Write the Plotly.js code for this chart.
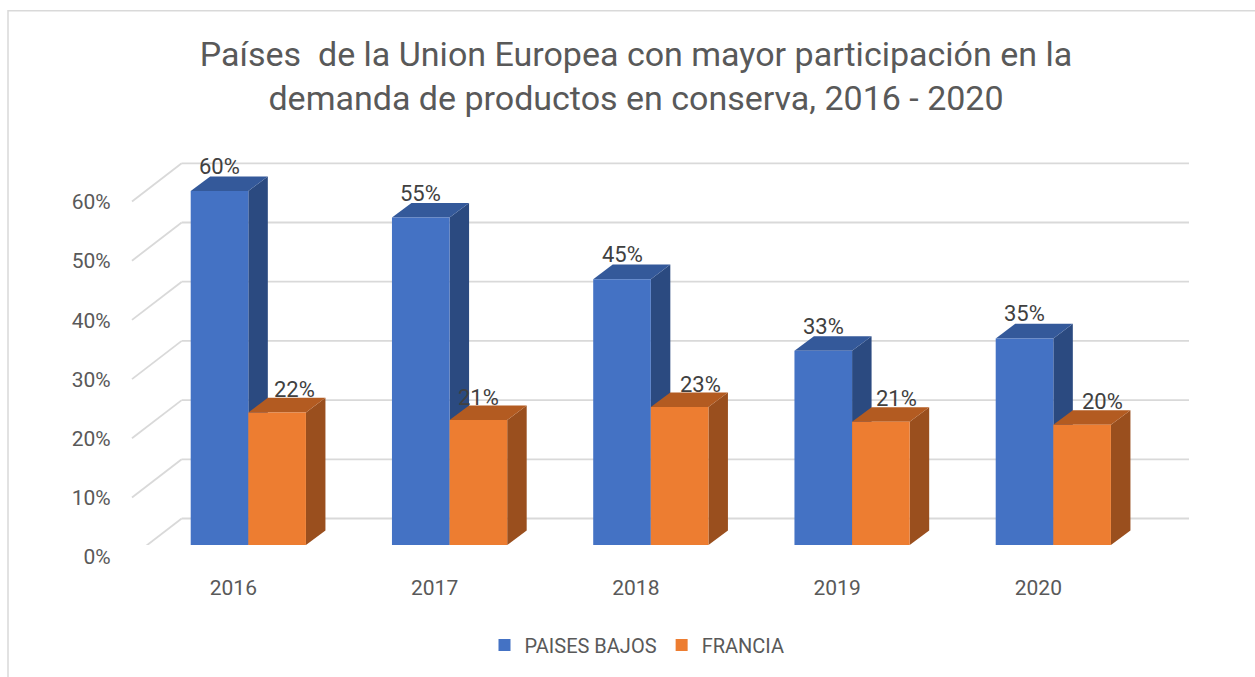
<!DOCTYPE html>
<html><head><meta charset="utf-8">
<script src="https://cdn.plot.ly/plotly-3.0.1.min.js"></script>
<style>html,body{margin:0;padding:0;background:#fff;}#chart{width:1255px;height:677px;}</style>
</head><body><div id="chart"></div>
<script>
// ---- data ----
const years = ['2016', '2017', '2018', '2019', '2020'];
const paisesBajos = [0.598, 0.553, 0.449, 0.328, 0.349];
const francia = [0.224, 0.211, 0.233, 0.208, 0.203];
const seriesNames = ['PAISES BAJOS', 'FRANCIA'];
const yTicks = [0, 0.1, 0.2, 0.3, 0.4, 0.5, 0.6];
const titleLine1 = 'Países  de la Union Europea con mayor participación en la';
const titleLine2 = 'demanda de productos en conserva, 2016 - 2020';
// label nudges (px) for the FRANCIA data labels, as placed in the original
const franciaLabelNudge = [17, 0, 21, 16, 20];

// ---- geometry / style ----
const W = 1255, H = 677;
const px = v => v / W, py = v => 1 - v / H;
const SCALE = 592, BASE = 545, YMAX = 0.7;
const CAT_PX = 201.25, BARGAP = 0.4274, BW = (1 - BARGAP) / 2;
const DDX = 19.5 / CAT_PX, DDY = 14.6 / SCALE;
const BACK = 26.5 / SCALE, FRONT = 11.7 / SCALE;
const WALL_L = 181.7, WALL_R = 1189, FLOOR_L = 132;
const FONT = 'Roboto, "Open Sans", sans-serif';
const GRID = '#D9D9D9';
const front = ['#4472C4', '#ED7D31'];
const topC = ['#34599A', '#B35B21'];
const sideC = ['#2B4A80', '#9A4F1E'];
const xs = years.map((_, i) => i);
const series = [paisesBajos, francia];

const traces = series.map((vals, s) => ({
  type: 'bar', name: seriesNames[s], x: xs, y: vals,
  marker: {color: front[s], line: {width: 0}},
  hoverinfo: 'skip'
}));

const shapes = [];
// chart border
shapes.push({type: 'rect', xref: 'paper', yref: 'paper', x0: px(8), x1: 1.05, y0: -0.05, y1: py(10.7),
  line: {color: GRID, width: 1.5}, fillcolor: 'rgba(0,0,0,0)', layer: 'below'});
// back wall gridlines and side wall diagonals
yTicks.forEach(v => {
  shapes.push({type: 'line', xref: 'paper', yref: 'y', x0: px(WALL_L), x1: px(WALL_R), y0: v + BACK, y1: v + BACK,
    line: {color: GRID, width: 1.8}, layer: 'below'});
  shapes.push({type: 'line', xref: 'paper', yref: 'y', x0: px(FLOOR_L), x1: px(WALL_L), y0: v - FRONT, y1: v + BACK,
    line: {color: GRID, width: 1.8}, layer: 'below'});
});
// 3D side and top faces
const annotations = [];
series.forEach((vals, s) => {
  vals.forEach((v, i) => {
    const c = xs[i] + (s - 0.5) * BW, xl = c - BW / 2, xr = c + BW / 2;
    shapes.push({type: 'path', xref: 'x', yref: 'y', layer: 'between',
      path: `M${xr},0 L${xr + DDX},${DDY} L${xr + DDX},${v + DDY} L${xr},${v} Z`,
      fillcolor: sideC[s], line: {width: 0}});
    shapes.push({type: 'path', xref: 'x', yref: 'y', layer: 'between',
      path: `M${xl},${v} L${xl + DDX},${v + DDY} L${xr + DDX},${v + DDY} L${xr},${v} Z`,
      fillcolor: topC[s], line: {width: 0}});
    annotations.push({xref: 'x', yref: 'y', x: c, y: v, showarrow: false,
      text: Math.round(v * 100) + '%', yanchor: 'middle', xanchor: 'center',
      yshift: s === 0 ? 24.5 : 23, xshift: s === 0 ? 0 : franciaLabelNudge[i],
      font: {family: FONT, size: 22, color: '#404040'}});
  });
});

const layout = {
  width: W, height: H,
  margin: {l: 0, r: 0, t: 0, b: 0},
  paper_bgcolor: '#FFFFFF', plot_bgcolor: 'rgba(0,0,0,0)',
  showlegend: true,
  barmode: 'group', bargap: BARGAP, bargroupgap: 0,
  title: {
    text: titleLine1 + '<br>' + titleLine2,
    font: {family: FONT, size: 34, color: '#595959'},
    x: px(636), xref: 'paper', xanchor: 'center',
    y: py(66), yref: 'container', yanchor: 'top'
  },
  xaxis: {
    domain: [px(147.7), px(147.7 + 5 * CAT_PX)],
    range: [-0.5, 4.5], tickvals: xs, ticktext: years,
    showgrid: false, zeroline: false, showline: false, ticks: '',
    tickfont: {family: FONT, size: 21, color: '#595959'},
    ticklabelstandoff: 28, ticklabelshift: -15, fixedrange: true
  },
  yaxis: {
    domain: [py(BASE), py(BASE - YMAX * SCALE)],
    range: [0, YMAX], tickvals: yTicks, tickformat: '.0%',
    showgrid: false, zeroline: false, showline: false, ticks: '',
    tickfont: {family: FONT, size: 21, color: '#595959'},
    ticklabelstandoff: 36, ticklabelshift: 12, fixedrange: true
  },
  legend: {
    orientation: 'h', x: px(637), xanchor: 'center', y: py(645), yanchor: 'middle',
    font: {family: FONT, size: 20, color: '#595959'}, traceorder: 'normal',
    bgcolor: 'rgba(0,0,0,0)'
  },
  shapes: shapes,
  annotations: annotations
};

Plotly.newPlot('chart', traces, layout, {displayModeBar: false, staticPlot: true});
</script>
</body></html>
